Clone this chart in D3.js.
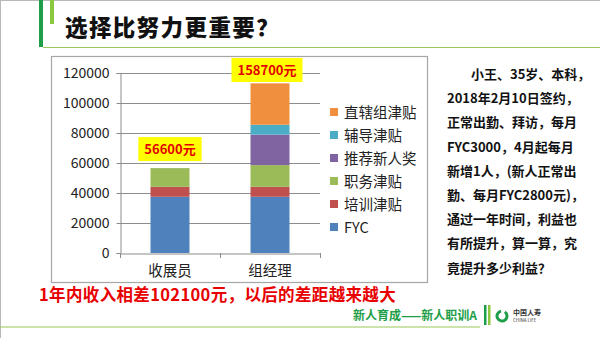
<!DOCTYPE html>
<html>
<head>
<meta charset="utf-8">
<script src="https://cdn.jsdelivr.net/npm/d3@7"></script>
<style>
  html, body { margin: 0; padding: 0; background: #fff; }
  svg { display: block; }
  text { font-family: "Noto Sans CJK SC", "Noto Sans", sans-serif; }
</style>
</head>
<body>
<script>
// ---- data ----
const categories = ["收展员", "组经理"];
const seriesNames = ["FYC", "培训津贴", "职务津贴", "推荐新人奖", "辅导津贴", "直辖组津贴"];
const fycValues      = [37500, 37500];
const trainingValues = [6600, 6600];
const dutyValues     = [12500, 14500];
const referralValues = [0, 20300];
const coachingValues = [0, 6600];
const directValues   = [0, 27600];
const totalLabels = ["56600元", "158700元"];
const yTicks = [0, 20000, 40000, 60000, 80000, 100000, 120000];
const seriesColors = ["#4F81BD", "#C0504D", "#9BBB59", "#8064A2", "#4BACC6", "#F0903F"];

const titleText = "选择比努力更重要？";
const noteLines = [
  "小王、35岁、本科，",
  "2018年2月10日签约，",
  "正常出勤、拜访，每月",
  "FYC3000，4月起每月",
  "新增1人，(新人正常出",
  "勤、每月FYC2800元)，",
  "通过一年时间，利益也",
  "有所提升，算一算，究",
  "竟提升多少利益？"
];
const summaryText = "1年内收入相差102100元，以后的差距越来越大";
const footerText = "新人育成——新人职训A";

// ---- table for the stack layout ----
const seriesValues = [fycValues, trainingValues, dutyValues, referralValues, coachingValues, directValues];
const table = categories.map((c, i) => {
  const row = { category: c };
  seriesNames.forEach((s, k) => { row[s] = seriesValues[k][i]; });
  return row;
});

const W = 600, H = 338;
const svg = d3.select("body").append("svg").attr("width", W).attr("height", H);

// slide frame and decorations
svg.append("rect").attr("x", 0.5).attr("y", 0.5).attr("width", W + 10).attr("height", H + 10)
  .attr("fill", "none").attr("stroke", "#b8b8b8");
svg.append("rect").attr("x", 39).attr("y", 0).attr("width", 4).attr("height", 47).attr("fill", "#1E9E48");
svg.append("rect").attr("x", 50).attr("y", 0).attr("width", 4).attr("height", 24).attr("fill", "#8DC63F");
svg.append("line").attr("x1", 43).attr("x2", W).attr("y1", 47.5).attr("y2", 47.5)
  .attr("stroke", "#9BC75A").attr("stroke-width", 1.2);
svg.append("text").attr("x", 65).attr("y", 36).text(titleText)
  .attr("font-size", 22.5).attr("font-weight", 900).attr("fill", "#111")
  .attr("letter-spacing", 1.4);

// chart frame
svg.append("rect").attr("x", 51.5).attr("y", 56.5).attr("width", 376).attr("height", 226)
  .attr("fill", "#fff").attr("stroke", "#a6a6a6").attr("stroke-width", 1.2);

const x = d3.scaleBand().domain(categories).range([120, 320]).paddingInner(0.61).paddingOuter(0.305);
const y = d3.scaleLinear().domain([0, 120000]).range([253, 73]);

// gridlines
svg.append("g").selectAll("line").data(yTicks.slice(1)).join("line")
  .attr("x1", 120).attr("x2", 320)
  .attr("y1", d => Math.round(y(d)) + 0.5).attr("y2", d => Math.round(y(d)) + 0.5)
  .attr("stroke", "#8c8c8c").attr("stroke-width", 1);

// y axis
const yAxis = svg.append("g").attr("transform", "translate(120.5,0)")
  .call(d3.axisLeft(y).tickValues(yTicks).tickSize(4).tickPadding(7).tickFormat(d3.format("d")));
yAxis.select(".domain").attr("stroke", "#8c8c8c");
yAxis.selectAll(".tick line").attr("stroke", "#8c8c8c");
yAxis.selectAll("text").attr("font-size", 14).attr("fill", "#222")
  .attr("font-family", "'Liberation Sans', Arial, sans-serif");

// stacked bars
const stack = d3.stack().keys(seriesNames);
const layers = stack(table);
svg.append("g").selectAll("g").data(layers).join("g")
  .attr("fill", (d, i) => seriesColors[i])
  .selectAll("rect").data(d => d).join("rect")
  .attr("x", d => x(d.data.category))
  .attr("width", x.bandwidth())
  .attr("y", d => y(d[1]))
  .attr("height", d => y(d[0]) - y(d[1]));

// x axis
const xAxis = svg.append("g").attr("transform", "translate(0,253.5)")
  .call(d3.axisBottom(x).tickSize(0).tickPadding(12));
xAxis.select(".domain").attr("stroke", "#8c8c8c");
xAxis.selectAll("text").attr("font-size", 14.5).attr("fill", "#222");
svg.append("g").selectAll("line").data([120, 220, 320]).join("line")
  .attr("x1", d => d + 0.5).attr("x2", d => d + 0.5).attr("y1", 253).attr("y2", 258)
  .attr("stroke", "#8c8c8c");

// total labels in yellow boxes
const totals = table.map(r => d3.sum(seriesNames, s => r[s]));
const labelG = svg.append("g").selectAll("g").data(categories).join("g");
labelG.each(function (c, i) {
  const g = d3.select(this);
  const t = g.append("text").text(totalLabels[i])
    .attr("font-size", 13).attr("font-weight", 700).attr("fill", "#E30000")
    .attr("text-anchor", "middle");
  const tw = t.node().getComputedTextLength();
  const bh = 24;
  const top = Math.max(58, y(totals[i]) - 7 - bh);
  const cx = x(c) + x.bandwidth() / 2 - (i === 1 ? 3 : 0);
  g.insert("rect", "text").attr("x", cx - tw / 2 - 6).attr("y", top)
    .attr("width", tw + 12).attr("height", bh).attr("fill", "#FFFF00");
  t.attr("x", cx).attr("y", top + bh / 2 + 4.5);
});

// legend (top entry is the last series)
const legend = svg.append("g").selectAll("g").data(seriesNames.slice().reverse()).join("g")
  .attr("transform", (d, i) => `translate(330,${112 + i * 23})`);
legend.append("rect").attr("x", 0).attr("y", -4).attr("width", 8).attr("height", 8)
  .attr("fill", d => seriesColors[seriesNames.indexOf(d)]);
legend.append("text").attr("x", 14).attr("y", 5.5).text(d => d)
  .attr("font-size", 14.5).attr("fill", "#222");

// note text on the right
svg.append("g").selectAll("text").data(noteLines).join("text")
  .attr("x", (d, i) => i === 0 ? 471 : 447)
  .attr("y", (d, i) => 79 + i * 24.2)
  .text(d => d)
  .attr("font-size", 13).attr("font-weight", 700).attr("fill", "#111");

// summary line
svg.append("text").attr("x", 39).attr("y", 301).text(summaryText)
  .attr("font-size", 16.5).attr("font-weight", 700).attr("fill", "#E80000")
  .attr("letter-spacing", 0.35);

// footer
svg.append("line").attr("x1", 0).attr("x2", 480).attr("y1", 327).attr("y2", 327)
  .attr("stroke", "#9BC75A").attr("stroke-width", 1.2);
svg.append("text").attr("x", 477).attr("y", 320).attr("text-anchor", "end").text(footerText)
  .attr("font-size", 12).attr("font-weight", 700).attr("fill", "#1E9E48");
svg.append("rect").attr("x", 484).attr("y", 305).attr("width", 2.5).attr("height", 20).attr("fill", "#1E9E48");
svg.append("rect").attr("x", 488).attr("y", 305).attr("width", 2.5).attr("height", 20).attr("fill", "#8DC63F");
const arc = d3.arc().innerRadius(3.5).outerRadius(6.5).startAngle(0.6).endAngle(2 * Math.PI - 0.2);
svg.append("path").attr("d", arc()).attr("transform", "translate(502,316)").attr("fill", "#1E9E48");
svg.append("text").attr("x", 513).attr("y", 315).text("中国人寿")
  .attr("font-size", 7).attr("font-weight", 700).attr("fill", "#333");
svg.append("text").attr("x", 513).attr("y", 322).text("CHINA LIFE")
  .attr("font-size", 4.5).attr("fill", "#333").attr("font-family", "'Liberation Sans', sans-serif");
</script>
</body>
</html>
